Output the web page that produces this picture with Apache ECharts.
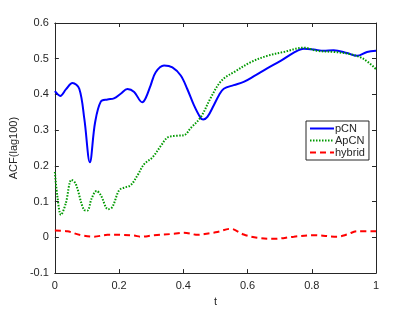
<!DOCTYPE html>
<html><head><meta charset="utf-8">
<script src="https://cdn.jsdelivr.net/npm/echarts@6/dist/echarts.min.js"></script>
<style>html,body{margin:0;padding:0;background:#fff}#c{width:415px;height:312px}</style>
</head><body><div id="c"></div>
<script>
const seriesNames = ['pCN', 'ApCN', 'hybrid'];
const pcnT = [0,0.017,0.035,0.055,0.076,0.092,0.109,0.125,0.143,0.164,0.184,0.205,0.226,0.247,0.272,0.283,0.298,0.314,0.340,0.366,0.392,0.412,0.433,0.454,0.462,0.475,0.495,0.511,0.526,0.557,0.588,0.620,0.661,0.703,0.744,0.775,0.806,0.837,0.868,0.910,0.941,0.972,1];
const pcnV = [0.409,0.396,0.415,0.432,0.416,0.330,0.210,0.320,0.380,0.386,0.389,0.402,0.415,0.407,0.378,0.390,0.425,0.462,0.481,0.476,0.453,0.416,0.370,0.334,0.330,0.337,0.370,0.398,0.416,0.426,0.435,0.451,0.473,0.494,0.517,0.528,0.526,0.522,0.524,0.516,0.508,0.519,0.522];
const apcnT = [0,0.008,0.019,0.034,0.052,0.065,0.091,0.101,0.115,0.130,0.143,0.166,0.179,0.200,0.215,0.236,0.257,0.278,0.304,0.330,0.350,0.371,0.402,0.423,0.454,0.485,0.511,0.532,0.557,0.609,0.661,0.713,0.775,0.817,0.868,0.920,0.962,1];
const apcnV = [0.183,0.114,0.063,0.095,0.161,0.150,0.077,0.075,0.110,0.130,0.118,0.079,0.085,0.132,0.139,0.146,0.173,0.205,0.224,0.256,0.279,0.284,0.286,0.306,0.336,0.390,0.430,0.449,0.462,0.490,0.508,0.519,0.531,0.522,0.519,0.513,0.499,0.471];
const hybT = [0,0.039,0.081,0.122,0.164,0.205,0.247,0.267,0.309,0.371,0.402,0.446,0.485,0.506,0.547,0.588,0.630,0.682,0.744,0.806,0.879,0.910,0.941,1];
const hybV = [0.019,0.017,0.006,0.002,0.007,0.007,0.005,0.002,0.006,0.010,0.013,0.007,0.012,0.015,0.024,0.008,-0.001,-0.004,0.002,0.006,0.002,0.008,0.017,0.017];
const xTicks = [0, 0.2, 0.4, 0.6, 0.8, 1];
const yTicks = [-0.1, 0, 0.1, 0.2, 0.3, 0.4, 0.5, 0.6];

const zip = (a, b) => a.map((t, i) => [t, b[i]]);
const txt = '#262626', ax = '#262626';
const font = 'Liberation Sans, Arial, sans-serif';
const chart = echarts.init(document.getElementById('c'), null, {renderer: 'canvas'});
const axCommon = {
  type: 'value',
  axisLine: {show: true, onZero: false, lineStyle: {color: ax, width: 1}},
  axisTick: {show: true, inside: true, length: 4, lineStyle: {color: ax}},
  splitLine: {show: false},
};
chart.setOption({
  animation: false,
  backgroundColor: '#fff',
  grid: {left: 54, right: 39, top: 23, bottom: 34, containLabel: false},
  xAxis: [
    Object.assign({}, axCommon, {min: 0, max: 1, interval: 0.2, position: 'bottom',
      name: 't', nameLocation: 'middle', nameGap: 17,
      nameTextStyle: {color: txt, fontSize: 11, fontFamily: font},
      axisLabel: {color: txt, fontSize: 11, fontFamily: font, margin: 7}}),
    Object.assign({}, axCommon, {min: 0, max: 1, interval: 0.2, position: 'top', axisLabel: {show: false}})
  ],
  yAxis: [
    Object.assign({}, axCommon, {min: -0.1, max: 0.6, interval: 0.1, position: 'left',
      name: 'ACF(lag100)', nameLocation: 'middle', nameGap: 30, nameRotate: 90,
      nameTextStyle: {color: txt, fontSize: 11, fontFamily: font},
      axisLabel: {color: txt, fontSize: 11, fontFamily: font, margin: 6,
        formatter: v => (Math.round(v * 10) / 10).toString()}}),
    Object.assign({}, axCommon, {min: -0.1, max: 0.6, interval: 0.1, position: 'right', axisLabel: {show: false}})
  ],
  legend: {
    orient: 'vertical', left: 306, top: 121, itemWidth: 24, itemHeight: 10, itemGap: 1,
    padding: [2, 4, 2, 3], borderColor: '#262626', borderWidth: 1, backgroundColor: '#fff',
    itemStyle: {opacity: 0},
    textStyle: {color: txt, fontSize: 11, fontFamily: font, padding: [0, 0, 0, -4]},
    data: seriesNames.map(n => ({name: n}))
  },
  series: [
    {name: seriesNames[0], type: 'line', data: zip(pcnT, pcnV), smooth: 0.35, symbol: 'none',
      lineStyle: {color: '#0000ff', width: 2}, itemStyle: {color: '#0000ff'}},
    {name: seriesNames[1], type: 'line', data: zip(apcnT, apcnV), smooth: 0.35, symbol: 'none',
      lineStyle: {color: '#009900', width: 2, type: [1.5, 1.5]}, itemStyle: {color: '#009900'}},
    {name: seriesNames[2], type: 'line', data: zip(hybT, hybV), smooth: 0.35, symbol: 'none',
      lineStyle: {color: '#ff0000', width: 2, type: [6, 4]}, itemStyle: {color: '#ff0000'}}
  ]
});
</script></body></html>
